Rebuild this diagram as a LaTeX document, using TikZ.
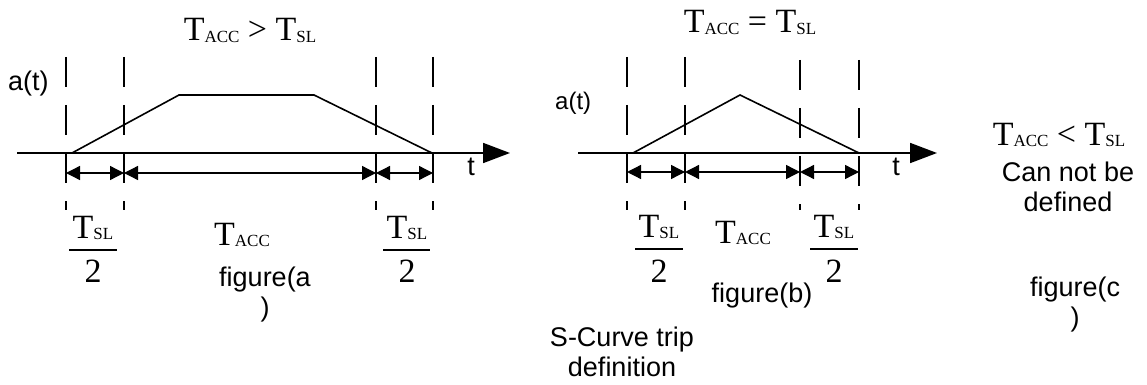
\documentclass[tikz,border=0pt]{standalone}
\usepackage{fontspec}
\setmainfont{Liberation Serif}
\newfontfamily\arialfont{Liberation Sans}
\usetikzlibrary{arrows.meta}
\newcommand\Tsub[1]{T{\fontsize{17}{17}\selectfont\raisebox{-1.5pt}{#1}}}
\tikzset{
    guide/.style={line width=1.5pt, dash pattern=on 30pt off 18pt},
    curve/.style={line width=1.6pt},
    axis/.style={line width=1.8pt, -{Triangle[length=27pt,width=20pt]}},
    dim/.style={line width=1.3pt, {Triangle[length=14pt,width=14pt]}-{Triangle[length=14pt,width=14pt]}},
    bar/.style={line width=1.3pt},
    serif/.style={inner sep=0pt, font=\fontsize{34}{34}\selectfont},
    sans/.style={inner sep=0pt, align=center, font=\arialfont\fontsize{27}{30}\selectfont},
}
\begin{document}
\begin{tikzpicture}[x=1pt,y=-1pt]
    \useasboundingbox (0,0) rectangle (1147,385);
    \begin{scope}
        \coordinate (Da1) at (66,173);
        \coordinate (Da2) at (124,173);
        \coordinate (Da3) at (376,173);
        \coordinate (Da4) at (433,173);
        \draw[guide] (66,57)--(66,210) (124,57)--(124,210) (376,57)--(376,210) (433,57)--(433,210);
        \draw[axis] (17,153)--(510,153);
        \draw[curve] (72,153)--(179,95)--(314,95)--(432,153);
        \draw[dim] (Da1)--(Da2);
        \draw[dim] (Da2)--(Da3);
        \draw[dim] (Da3)--(Da4);
        \node[serif, anchor=base] (titlea) at (250,41) {\Tsub{ACC} > \Tsub{SL}};
        \node[sans, anchor=base west] (acca) at (8,91) {a(t)};
        \node[sans, anchor=base] (ta) at (471,175) {t};
        \node[serif, anchor=base] (numa1) at (93,238) {\Tsub{SL}};
        \draw[bar] (69,250)--(117,250);
        \node[serif, anchor=base] (dena1) at (93,282) {2};
        \node[serif, anchor=base] (Tacca) at (242,245) {\Tsub{ACC}};
        \node[serif, anchor=base] (numa2) at (407,238) {\Tsub{SL}};
        \draw[bar] (383,250)--(430,250);
        \node[serif, anchor=base] (dena2) at (407,282) {2};
        \node[sans] (figa) at (265,295) {figure(a\\)};
    \end{scope}
    \begin{scope}[xshift=540pt]
        \coordinate (Db1) at (87,172);
        \coordinate (Db2) at (145,172);
        \coordinate (Db3) at (260,172);
        \coordinate (Db4) at (319,172);
        \draw[guide] (87,57)--(87,210) (145,57)--(145,210) (260,60)--(260,210) (319,60)--(319,210);
        \draw[axis] (38,153)--(397,153);
        \draw[curve] (93,153)--(200,95)--(319,153);
        \draw[dim] (Db1)--(Db2);
        \draw[dim] (Db2)--(Db3);
        \draw[dim] (Db3)--(Db4);
        \node[serif, anchor=base] (titleb) at (210,33) {\Tsub{ACC} = \Tsub{SL}};
        \node[sans, anchor=base west, font=\arialfont\fontsize{24}{24}\selectfont] (accb) at (15,109.5) {a(t)};
        \node[sans, anchor=base] (tb) at (356,175) {t};
        \node[serif, anchor=base] (numb1) at (119,237) {\Tsub{SL}};
        \draw[bar] (95,249)--(143,249);
        \node[serif, anchor=base] (denb1) at (119,282) {2};
        \node[serif, anchor=base] (Taccb) at (203,243) {\Tsub{ACC}};
        \node[serif, anchor=base] (numb2) at (294,237) {\Tsub{SL}};
        \draw[bar] (270,249)--(318,249);
        \node[serif, anchor=base] (denb2) at (294,282) {2};
        \node[sans, anchor=base] (figb) at (222,302) {figure(b)};
        \node[sans] (scurve) at (82,352) {S-Curve trip\\definition};
    \end{scope}
    \begin{scope}
        \node[serif, anchor=base] (titlec) at (1059,145) {\Tsub{ACC} < \Tsub{SL}};
        \node[sans] (undef) at (1068,187) {Can not be\\defined};
        \node[sans] (figc) at (1075,305) {figure(c\\)};
    \end{scope}
\end{tikzpicture}
\end{document}
